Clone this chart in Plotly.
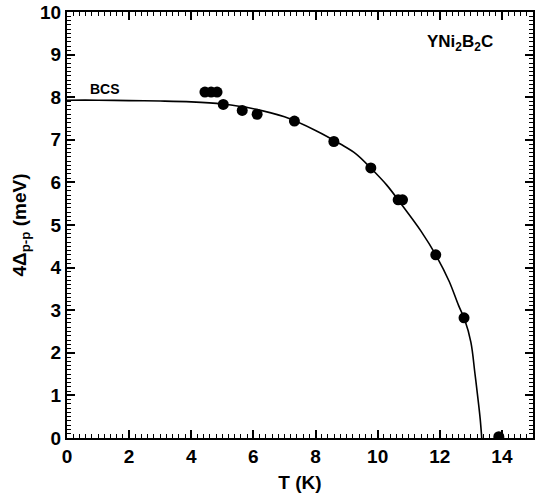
import plotly.graph_objects as go

# Measured gap values 4Δ(p-p) versus temperature
temp_k = [4.44, 4.64, 4.83, 5.03, 5.64, 6.12, 7.32, 8.59, 9.78, 10.66, 10.80, 11.87, 12.78, 13.90]
gap_mev = [8.12, 8.12, 8.12, 7.83, 7.69, 7.60, 7.44, 6.96, 6.34, 5.59, 5.59, 4.30, 2.82, 0.03]

# BCS curve, sampled along its trace
bcs_t = [0.0, 1.0, 2.0, 3.0, 4.0, 5.0, 6.0, 7.0, 8.0, 8.8, 9.3, 9.8, 10.3, 10.8,
         11.4, 11.9, 12.3, 12.6, 12.8, 13.0, 13.13, 13.24, 13.30, 13.35]
bcs_gap = [7.93, 7.93, 7.92, 7.91, 7.89, 7.84, 7.73, 7.54, 7.22, 6.90, 6.67, 6.32, 5.93,
           5.45, 4.85, 4.26, 3.68, 3.12, 2.78, 2.25, 1.52, 0.85, 0.45, 0.0]

x_range = [0, 15]
y_range = [0, 10]
x_major_step = 2
y_major_step = 1

font = "Liberation Sans, Arial, sans-serif"

fig = go.Figure()
fig.add_trace(go.Scatter(
    x=bcs_t, y=bcs_gap, mode="lines", line=dict(color="black", width=1.6, shape="spline"),
    showlegend=False, hoverinfo="skip",
))
fig.add_trace(go.Scatter(
    x=temp_k, y=gap_mev, mode="markers",
    marker=dict(color="black", size=11, line=dict(width=0)),
    showlegend=False,
))

fig.add_annotation(x=1.22, y=8.2, text="<b>BCS</b>", showarrow=False,
                   font=dict(family=font, size=14, color="black"))
fig.add_annotation(x=12.65, y=9.28, text="<b>YNi<sub>2</sub>B<sub>2</sub>C</b>", showarrow=False,
                   font=dict(family=font, size=17, color="black"))

axis_common = dict(
    showline=True, linecolor="black", linewidth=2, mirror="allticks",
    ticks="inside", ticklen=8, tickwidth=2, tickcolor="#000000",
    showgrid=False, zeroline=False, ticklabeloverflow="allow",
    tickmode="linear", tick0=0,
    tickfont=dict(family=font, size=19, color="black", weight="bold"),
)

fig.update_xaxes(
    range=x_range, dtick=x_major_step,
    minor=dict(dtick=0.2, ticks="inside", ticklen=4, tickcolor="#000000", tickwidth=1.2, showgrid=False),
    title=dict(text="<b>T (K)</b>", font=dict(family=font, size=19, color="black"), standoff=10),
    **axis_common,
)
fig.update_yaxes(
    range=y_range, dtick=y_major_step,
    minor=dict(dtick=0.1, ticks="inside", ticklen=4, tickcolor="#000000", tickwidth=1.2, showgrid=False),
    title=dict(text="<b>4Δ<sub>p-p</sub> (meV)</b>", font=dict(family=font, size=19, color="black"), standoff=8),
    **axis_common,
)

fig.update_layout(
    template="none",
    width=535, height=499,
    margin=dict(l=67, r=2, t=12, b=61),
    paper_bgcolor="white", plot_bgcolor="white",
)

fig.write_html("out.html")
